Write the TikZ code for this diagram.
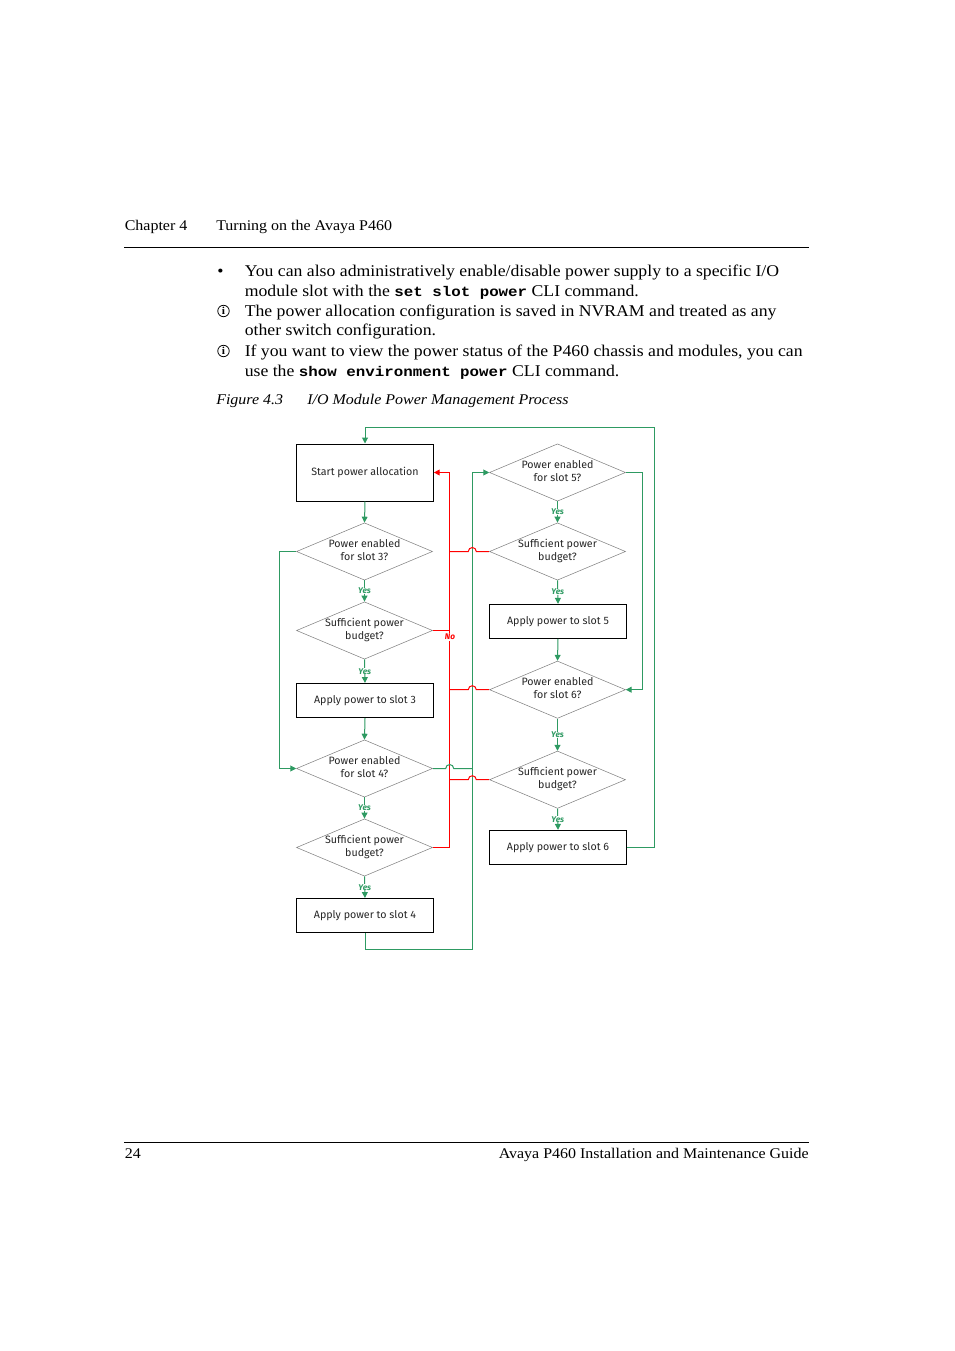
\documentclass[tikz,border=0pt]{standalone}
\usepackage{fontspec}
\usetikzlibrary{shapes.geometric, arrows.meta}
\setmainfont[FakeStretch=1.08]{Liberation Serif}
\setmonofont[FakeStretch=1.13]{Liberation Mono}
\newfontfamily\chartfont{Fira Sans}
\newcommand{\twolines}[2]{\makebox[0pt]{\smash{\raisebox{-2pt}{\begin{tabular}[c]{@{}c@{}}#1\\#2\end{tabular}}}}}
\newcommand{\code}[1]{{\fontsize{10.5}{15}\ttfamily\bfseries #1}}
\definecolor{flowgreen}{RGB}{46,154,98}
\begin{document}
\begin{tikzpicture}
    [x=0.75pt, y=-0.75pt, >={Triangle[length=4.4pt, width=4.4pt]},
     headtext/.style={anchor=base west, inner sep=0, font=\fontsize{11.1}{14}\selectfont},
     pagetext/.style={headtext, font=\fontsize{12.3}{14}\selectfont},
     figtext/.style={headtext, font=\fontsize{11.1}{14}\selectfont\itshape},
     infomark/.style={circle, draw, line width=0.6pt, inner sep=0, minimum size=8.6pt,
       font=\fontsize{8}{8}\selectfont\bfseries},
     stepbox/.style={draw=black, line width=0.75pt, minimum width=102.5pt, minimum height=25.5pt,
       inner sep=0, text=black!85, font=\chartfont\fontsize{8}{9.75}\selectfont},
     decide/.style={diamond, draw=black!50, line width=0.4pt, minimum width=102pt, minimum height=43pt,
       inner sep=0, text=black!85, font=\chartfont\fontsize{8}{9.75}\selectfont},
     flow/.style={color=flowgreen, line width=0.75pt},
     nopath/.style={color=red, line width=0.75pt},
     yes/.style={fill=white, inner sep=0, text=flowgreen, font=\chartfont\fontsize{6.2}{6}\selectfont\bfseries\itshape},
     no/.style={fill=white, inner sep=0.5pt, text=red, font=\chartfont\fontsize{6.2}{6}\selectfont\bfseries\itshape}]
    \useasboundingbox (0, 0) rectangle (954, 1351);

    % page text
    \node[headtext] (chapter) at (124.5, 230.7) {Chapter 4};
    \node[headtext] (title) at (216, 230.7) {Turning on the Avaya P460};
    \coordinate (headl) at (124, 247.5);
    \coordinate (headr) at (809, 247.5);
    \draw[line width=0.75pt] (headl) -- (headr);
    \node[pagetext] (bullet) at (217, 276.7) {\textbullet};
    \node[pagetext] (linea) at (244.5, 276.7) {You can also administratively enable/disable power supply to a specific I/O};
    \node[pagetext] (lineb) at (244.5, 296.7) {module slot with the \code{set slot power} CLI command.};
    \node[infomark] (infoa) at (223.5, 311) {i};
    \node[pagetext] (linec) at (244.5, 316.7) {The power allocation configuration is saved in NVRAM and treated as any};
    \node[pagetext] (lined) at (244.5, 335.7) {other switch configuration.};
    \node[infomark] (infob) at (223.5, 351) {i};
    \node[pagetext] (linee) at (244.5, 356.7) {If you want to view the power status of the P460 chassis and modules, you can};
    \node[pagetext] (linef) at (244.5, 376.7) {use the \code{show environment power} CLI command.};
    \node[figtext] (fignum) at (216, 404) {Figure 4.3};
    \node[figtext] (figname) at (307, 404) {I/O Module Power Management Process};
    \coordinate (footl) at (124, 1142.5);
    \coordinate (footr) at (809, 1142.5);
    \draw[line width=0.75pt] (footl) -- (footr);
    \node[headtext] (pagenum) at (124.5, 1158) {24};
    \node[headtext, anchor=base east] (guide) at (809, 1158) {Avaya P460 Installation and Maintenance Guide};

    % left column
    \node[stepbox, minimum height=42.75pt] (start) at (365, 472.5) {Start power allocation};
    \node[decide] (en3) at (364.5, 551.5) {\twolines{Power enabled}{for slot 3?}};
    \node[decide] (suff3) at (364.5, 630.5) {\twolines{Sufficient power}{budget?}};
    \node[stepbox] (apply3) at (365, 700.5) {Apply power to slot 3};
    \node[decide] (en4) at (364.5, 768.5) {\twolines{Power enabled}{for slot 4?}};
    \node[decide] (suff4) at (364.5, 847.5) {\twolines{Sufficient power}{budget?}};
    \node[stepbox] (apply4) at (365, 915.5) {Apply power to slot 4};

    % right column
    \node[decide] (en5) at (557.5, 472.5) {\twolines{Power enabled}{for slot 5?}};
    \node[decide] (suff5) at (557.5, 551.5) {\twolines{Sufficient power}{budget?}};
    \node[stepbox] (apply5) at (558, 621.3) {Apply power to slot 5};
    \node[decide] (en6) at (557.5, 689.7) {\twolines{Power enabled}{for slot 6?}};
    \node[decide] (suff6) at (557.5, 779.7) {\twolines{Sufficient power}{budget?}};
    \node[stepbox] (apply6) at (558, 847.3) {Apply power to slot 6};

    % the vertical runs
    \coordinate (leftbus) at (279.3, 0);
    \coordinate (redbus) at (449.7, 0);
    \coordinate (greenbus) at (472.3, 0);
    \coordinate (hopright) at (476.3, 0);
    \coordinate (hopleft) at (445.7, 0);
    \coordinate (innerbus) at (642.3, 0);
    \coordinate (outerbus) at (654.3, 0);
    \coordinate (topline) at (0, 427.3);
    \coordinate (bottomline) at (0, 949);

    % green flow
    \draw[flow, ->] (start.south) -- (en3.north);
    \draw[flow, ->] (apply3.south) -- (en4.north);
    \draw[flow, ->] (apply5.south) -- (en6.north);
    \foreach \from/\to in {en3/suff3, suff3/apply3, en4/suff4, suff4/apply4,
        en5/suff5, suff5/apply5, en6/suff6, suff6/apply6}
      \draw[flow, ->] (\from.south) -- node[yes] (yes\from) {Yes} (\to.north);
    \draw[flow, ->] (apply6.east) -- (outerbus |- apply6.east) -- (outerbus |- topline)
      -- (start.north |- topline) -- (start.north);
    \draw[flow, ->] (apply4.south) -- (apply4.south |- bottomline) -- (greenbus |- bottomline)
      -- (greenbus |- en5.west) -- (en5.west);
    \draw[flow, ->] (en3.west) -- (leftbus |- en3.west) -- (leftbus |- en4.west) -- (en4.west);
    \draw[flow, ->] (en5.east) -- (innerbus |- en5.east) -- (innerbus |- en6.east) -- (en6.east);

    % red flow
    \draw[nopath, ->] (suff4.east) -- (redbus |- suff4.east) -- (redbus |- start.east) -- (start.east);
    \draw[nopath] (suff3.east) -- (redbus |- suff3.east);
    \foreach \from in {suff5, en6, suff6}
      \draw[nopath] (\from.west) -- (hopright |- \from.west)
        arc [start angle=0, end angle=180, radius=3pt] -- (redbus |- \from.west);
    \draw[flow] (en4.east) -- (hopleft |- en4.east)
      arc [start angle=180, end angle=0, radius=3pt] -- (greenbus |- en4.east);
    \node[no] (nolabel) at (450, 637) {No};
\end{tikzpicture}
\end{document}
